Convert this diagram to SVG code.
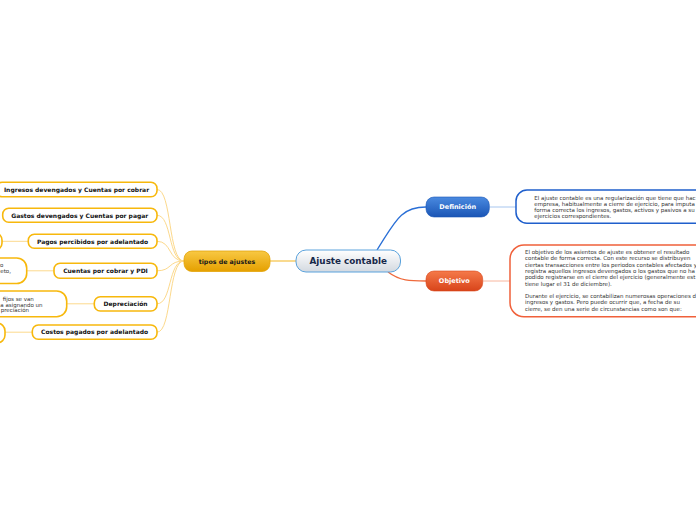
<svg xmlns="http://www.w3.org/2000/svg" width="696" height="520" viewBox="0 0 696 520">
<defs>
<linearGradient id="gC" x1="0" y1="0" x2="0" y2="1"><stop offset="0" stop-color="#ffffff"/><stop offset="1" stop-color="#d3d9e0"/></linearGradient>
<linearGradient id="gO" x1="0" y1="0" x2="0" y2="1"><stop offset="0" stop-color="#f8c843"/><stop offset="1" stop-color="#e5a000"/></linearGradient>
<linearGradient id="gB" x1="0" y1="0" x2="0" y2="1"><stop offset="0" stop-color="#4a8ae0"/><stop offset="1" stop-color="#1a55b5"/></linearGradient>
<linearGradient id="gR" x1="0" y1="0" x2="0" y2="1"><stop offset="0" stop-color="#f57a4a"/><stop offset="1" stop-color="#d8441a"/></linearGradient>
<style>
text{font-family:"DejaVu Sans",Verdana,sans-serif}
.ln{fill:none;stroke:#fcd98c;stroke-width:1}
.sub{fill:#fff;stroke:#f7b80c;stroke-width:1.6}
.st{font-size:6px;font-weight:bold;fill:#111;text-anchor:middle}
.dt{font-size:5.5px;fill:#333}
</style>
</defs>
<g id="connectors">
<path d="M270,261 L296,261" stroke="#f6c245" stroke-width="1.2" fill="none"/>
<path d="M377,250 C395,222 400,207 426,207" stroke="#2a6fd6" stroke-width="1.3" fill="none"/>
<path d="M388,272 C400,281 410,281 426,281" stroke="#ef6a3c" stroke-width="1.3" fill="none"/>
<path d="M489,207 L516,207" stroke="#a7c6ef" stroke-width="1" fill="none"/>
<path d="M483,281 L510,281" stroke="#f8b69e" stroke-width="1" fill="none"/>
<path class="ln" d="M184,261 C168,261 172,189.5 157,189.5"/>
<path class="ln" d="M184,261 C168,261 172,215.3 157,215.3"/>
<path class="ln" d="M184,261 C168,261 172,241.3 157,241.3"/>
<path class="ln" d="M184,261 C168,261 172,270.8 157,270.8"/>
<path class="ln" d="M184,261 C168,261 172,303.8 157,303.8"/>
<path class="ln" d="M184,261 C168,261 172,332.2 157,332.2"/>
<path class="ln" d="M2,241.3 L28,241.3"/>
<path class="ln" d="M27,270.8 L54,270.8"/>
<path class="ln" d="M67,303.8 L94,303.8"/>
<path class="ln" d="M5,332.2 L32,332.2"/>
</g>
<g id="central">
<rect x="296" y="250" width="104.5" height="22" rx="10" fill="url(#gC)" stroke="#5aa2dc" stroke-width="1"/>
<text x="348.3" y="264.3" font-size="8.8" font-weight="bold" fill="#17284a" text-anchor="middle">Ajuste contable</text>
</g>
<g id="tipos">
<rect x="184" y="251" width="86" height="20.5" rx="8" fill="url(#gO)" stroke="#e3a50a" stroke-width="0.8"/>
<text x="227" y="263.5" font-size="6.3" font-weight="bold" fill="#1a1a1a" text-anchor="middle">tipos de ajustes</text>
</g>
<g id="definicion">
<rect x="426" y="197" width="63.3" height="20" rx="8" fill="url(#gB)" stroke="#1a55b5" stroke-width="0.6"/>
<text x="457.7" y="209.4" font-size="6.5" font-weight="bold" fill="#fff" text-anchor="middle">Definición</text>
</g>
<g id="definicion-texto">
<rect x="516" y="190" width="200" height="33.3" rx="11" fill="#fff" stroke="#1f5fcc" stroke-width="1.5"/>
<text class="dt"><tspan x="534.3" y="200">El ajuste contable es una regularización que tiene que hac</tspan><tspan x="534.3" y="206">empresa, habitualmente a cierre de ejercicio, para imputa</tspan><tspan x="534.3" y="212">forma correcta los ingresos, gastos, activos y pasivos a su</tspan><tspan x="534.3" y="218">ejercicios correspondientes.</tspan></text>
</g>
<g id="objetivo">
<rect x="426" y="271" width="56.7" height="20" rx="8" fill="url(#gR)" stroke="#d8441a" stroke-width="0.6"/>
<text x="454.3" y="283.4" font-size="6.5" font-weight="bold" fill="#fff" text-anchor="middle">Objetivo</text>
</g>
<g id="objetivo-texto">
<rect x="510" y="245" width="210" height="71.7" rx="14" fill="#fff" stroke="#f0603a" stroke-width="1.5"/>
<text class="dt"><tspan x="525" y="254">El objetivo de los asientos de ajuste es obtener el  resultado</tspan><tspan x="525" y="260.3">contable de forma correcta. Con este recurso se distribuyen</tspan><tspan x="525" y="266.6">ciertas transacciones entre los periodos contables afectados y</tspan><tspan x="525" y="272.9">registra aquellos ingresos devengados o los gastos que no ha</tspan><tspan x="525" y="279.2">podido registrarse en el cierre del ejercicio (generalmente est</tspan><tspan x="525" y="285.5">tiene lugar el 31 de diciembre).</tspan><tspan x="525" y="298.1">Durante el ejercicio, se contabilizan numerosas operaciones d</tspan><tspan x="525" y="304.4">ingresos y gastos. Pero puede ocurrir que, a fecha de su</tspan><tspan x="525" y="310.7">cierre, se den una serie de circunstancias como son que:</tspan></text>
</g>
<g id="ingresos">
<rect class="sub" x="-4" y="182.3" width="161" height="14.4" rx="6"/>
<text class="st" x="76.5" y="191.7">Ingresos devengados y Cuentas por cobrar</text>
</g>
<g id="gastos">
<rect class="sub" x="2.7" y="208.3" width="154.3" height="14" rx="6"/>
<text class="st" x="79.8" y="217.5">Gastos devengados y Cuentas por pagar</text>
</g>
<g id="pagos">
<rect class="sub" x="28.3" y="234.3" width="128.7" height="14" rx="6"/>
<text class="st" x="92.6" y="243.5">Pagos percibidos por adelantado</text>
</g>
<g id="cuentas">
<rect class="sub" x="54" y="263.3" width="103" height="15" rx="6"/>
<text class="st" x="105.5" y="273">Cuentas por cobrar y PDI</text>
</g>
<g id="depreciacion">
<rect class="sub" x="94.3" y="296.7" width="62.7" height="14.3" rx="6"/>
<text class="st" x="125.6" y="306">Depreciación</text>
</g>
<g id="costos">
<rect class="sub" x="32.3" y="325" width="124.7" height="14.3" rx="6"/>
<text class="st" x="94.6" y="334.4">Costos pagados por adelantado</text>
</g>
<g id="pagos-detalle">
<rect class="sub" x="-60" y="233" width="62" height="17" rx="7"/>
</g>
<g id="cuentas-detalle">
<rect class="sub" x="-120" y="258" width="146.7" height="25.5" rx="10"/>
<text class="dt"><tspan x="0" y="266.5">o</tspan><tspan x="0.3" y="272.5">eto,</tspan></text>
</g>
<g id="depreciacion-detalle">
<rect class="sub" x="-120" y="291" width="186.7" height="25.7" rx="10"/>
<text class="dt"><tspan x="2.7" y="300.5">fijos se van</tspan><tspan x="0.3" y="306.5">a asignando un</tspan><tspan x="0.7" y="312.3">preciación</tspan></text>
</g>
<g id="costos-detalle">
<rect class="sub" x="-60" y="323" width="65" height="20" rx="8"/>
</g>
</svg>
